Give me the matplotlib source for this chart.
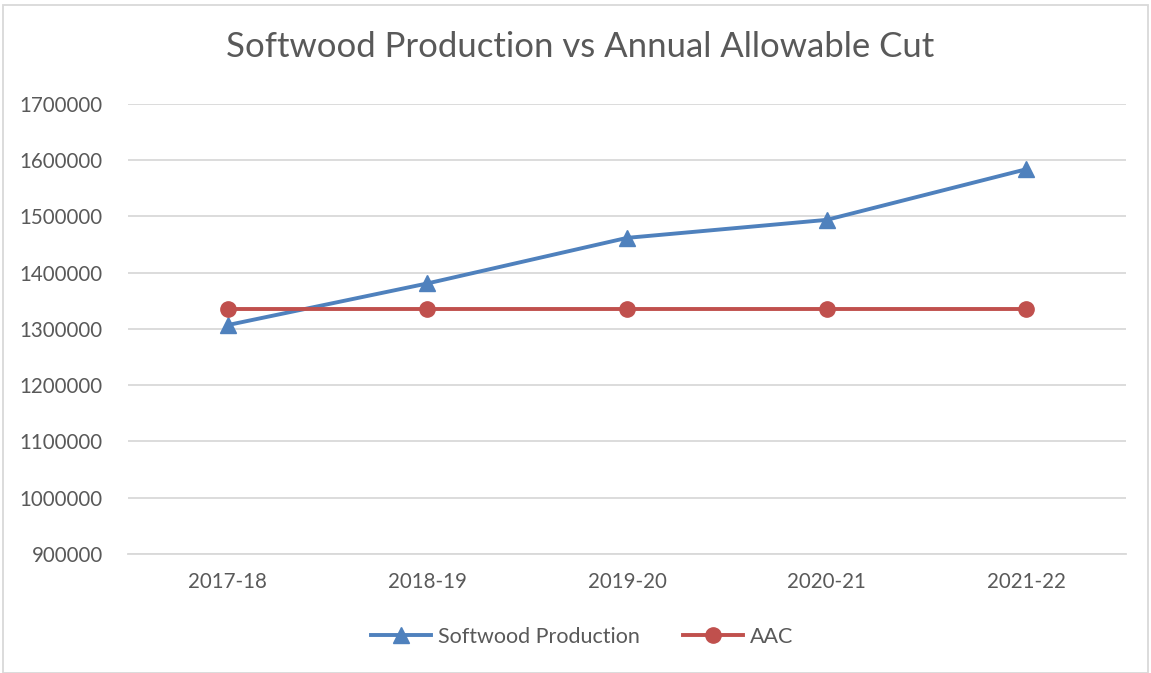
"""Softwood production vs annual allowable cut line chart."""

import matplotlib.pyplot as plt
from matplotlib.patches import Rectangle

years = ["2017-18", "2018-19", "2019-20", "2020-21", "2021-22"]
softwood = [1307000, 1381000, 1462000, 1494000, 1584000]
aac = [1335000, 1335000, 1335000, 1335000, 1335000]
y_ticks = [900000, 1000000, 1100000, 1200000, 1300000, 1400000, 1500000, 1600000, 1700000]

BLUE = "#4F81BD"
RED = "#C0504D"
TEXT = "#595959"
GRID = "#D9D9D9"

plt.rcParams["font.family"] = ["Lato", "DejaVu Sans"]

fig = plt.figure(figsize=(11.51, 6.73), dpi=100)
ax = fig.add_axes([128 / 1151, 1 - 554 / 673, 998 / 1151, 450 / 673])

x = range(len(years))
ax.plot(x, softwood, color=BLUE, lw=2.8, marker="^", ms=11, label="Softwood Production")
ax.plot(x, aac, color=RED, lw=2.8, marker="o", ms=11, label="AAC")

ax.set_xlim(-0.5, len(years) - 0.5)
ax.set_ylim(900000, 1700000)
ax.set_yticks(y_ticks)
ax.set_yticklabels([str(v) for v in y_ticks])
ax.set_xticks(list(x))
ax.set_xticklabels(years)
ax.tick_params(axis="both", length=0, labelsize=14.8, colors=TEXT)
ax.tick_params(axis="y", pad=18)
ax.tick_params(axis="x", pad=13)
ax.grid(axis="y", color=GRID, lw=1.3)
ax.set_axisbelow(True)
for side in ["top", "right", "left"]:
    ax.spines[side].set_visible(False)
ax.spines["bottom"].set_color(GRID)
ax.spines["bottom"].set_linewidth(1.3)

fig.text(580 / 1151, 1 - 47 / 673, "Softwood Production vs Annual Allowable Cut",
         ha="center", va="center", fontsize=25, color=TEXT)

fig.legend(loc="center", bbox_to_anchor=(582 / 1151, 1 - 637 / 673), ncol=2,
           frameon=False, fontsize=15.5, labelcolor=TEXT, handlelength=2.8,
           columnspacing=2.0, handletextpad=0.3)

fig.patches.append(Rectangle((3 / 1151, 0), 1145 / 1151, 1 - 5 / 673,
                             transform=fig.transFigure, fill=False,
                             edgecolor=GRID, lw=1.3))

fig.savefig("out.png", dpi=100)
